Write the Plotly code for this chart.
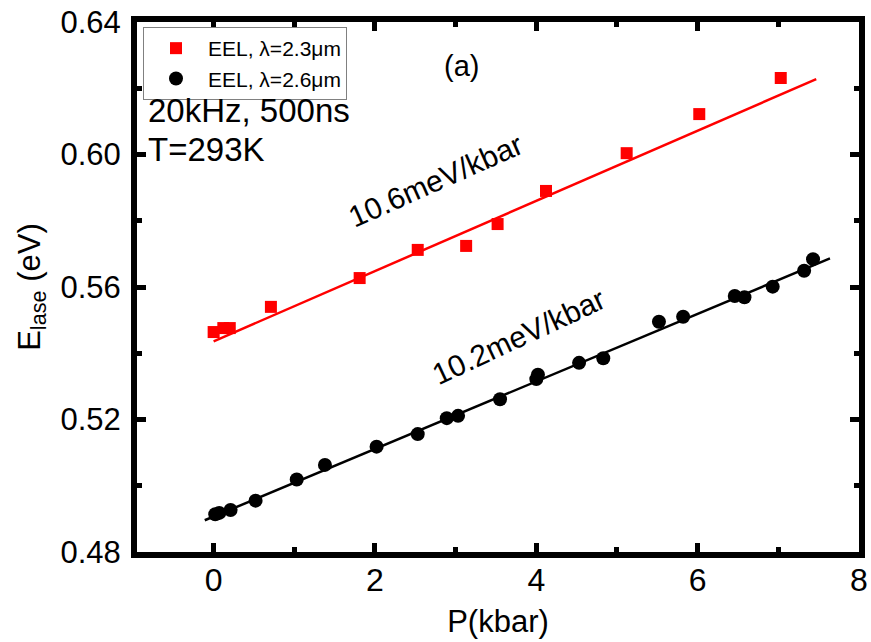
import plotly.graph_objects as go

# Lasing photon energy vs hydrostatic pressure
p_23 = [0.0, 0.12, 0.2, 0.71, 1.81, 2.53, 3.13, 3.52, 4.12, 5.12, 6.02, 7.03]
e_23 = [0.5464, 0.5476, 0.5476, 0.5540, 0.5627, 0.5712, 0.5724, 0.5790, 0.5890, 0.6004, 0.6122, 0.6231]

p_26 = [0.02, 0.07, 0.21, 0.52, 1.03, 1.38, 2.02, 2.53, 2.89, 3.03, 3.55, 4.0, 4.02,
        4.53, 4.83, 5.52, 5.82, 6.46, 6.58, 6.93, 7.32, 7.43]
e_26 = [0.4914, 0.4918, 0.4927, 0.4955, 0.5019, 0.5063, 0.5118, 0.5156, 0.5204, 0.5211,
        0.5261, 0.5322, 0.5335, 0.5371, 0.5385, 0.5495, 0.5510, 0.5573, 0.5569, 0.5601,
        0.5649, 0.5684]

# Linear fits: slope (eV/kbar), intercept (eV), fitted pressure span
slope_23, icpt_23, span_23 = 0.0106, 0.5436, [0.0, 7.47]
slope_26, icpt_26, span_26 = 0.0102, 0.4907, [-0.11, 7.64]

FONT = "Arial, Liberation Sans, sans-serif"

L, R, T, B = 137, 12, 22, 90
W, H = 871, 642
pw, ph = W - L - R, H - T - B


def px_to_paper(px, py):
    return (px - L) / pw, (H - B - py) / ph


fig = go.Figure()

fig.add_trace(go.Scatter(
    x=span_23, y=[icpt_23 + slope_23 * p for p in span_23],
    mode="lines", line=dict(color="#ff0000", width=2.5), showlegend=False))
fig.add_trace(go.Scatter(
    x=span_26, y=[icpt_26 + slope_26 * p for p in span_26],
    mode="lines", line=dict(color="#000000", width=2.5), showlegend=False))

fig.add_trace(go.Scatter(
    x=p_23, y=e_23, mode="markers", name="EEL, λ=2.3μm",
    marker=dict(symbol="square", size=12, color="#ff0000", line=dict(width=0))))
fig.add_trace(go.Scatter(
    x=p_26, y=e_26, mode="markers", name="EEL, λ=2.6μm",
    marker=dict(symbol="circle", size=14, color="#000000", line=dict(width=0))))

axis_common = dict(
    showline=True, linecolor="black", linewidth=6, mirror="ticks",
    ticks="inside", ticklen=9, tickwidth=4.5, tickcolor="black",
    showgrid=False, zeroline=False, automargin=False,
)

fig.update_xaxes(
    range=[-0.95, 8], tickvals=[0, 2, 4, 6, 8],
    tickfont=dict(family=FONT, size=32, color="black"),
    ticklabelstandoff=-5,
    minor=dict(tickvals=[1, 3, 5, 7], ticks="inside", ticklen=5, tickwidth=4.5, tickcolor="black"),
    title=dict(text="P(kbar)", font=dict(family=FONT, size=31, color="black"), standoff=15),
    **axis_common)

fig.update_yaxes(
    range=[0.48, 0.64], tickvals=[0.48, 0.52, 0.56, 0.60, 0.64], tickformat=".2f",
    tickfont=dict(family=FONT, size=31, color="black"),
    ticklabelstandoff=4,
    minor=dict(tickvals=[0.50, 0.54, 0.58, 0.62], ticks="inside", ticklen=5, tickwidth=4.5, tickcolor="black"),
    title=dict(text="E<sub>lase</sub> (eV)", font=dict(family=FONT, size=31, color="black"), standoff=13),
    **axis_common)

ax, ay = px_to_paper(461, 66)
fig.add_annotation(x=ax, y=ay, xref="paper", yref="paper", text="(a)", showarrow=False,
                   xanchor="center", yanchor="middle",
                   font=dict(family=FONT, size=29, color="black"))
cx, cy = px_to_paper(146, 111)
fig.add_annotation(x=cx, y=cy, xref="paper", yref="paper", text="20kHz, 500ns",
                   xanchor="left", yanchor="middle", showarrow=False,
                   font=dict(family=FONT, size=33, color="black"))
cx, cy = px_to_paper(146, 150)
fig.add_annotation(x=cx, y=cy, xref="paper", yref="paper", text="T=293K",
                   xanchor="left", yanchor="middle", showarrow=False,
                   font=dict(family=FONT, size=33, color="black"))

fig.add_annotation(x=2.75, y=0.5922, text="10.6meV/kbar", textangle=-24, showarrow=False,
                   font=dict(family=FONT, size=30, color="black"))
fig.add_annotation(x=3.78, y=0.5452, text="10.2meV/kbar", textangle=-25, showarrow=False,
                   font=dict(family=FONT, size=30, color="black"))

lx, ly = px_to_paper(143, 27)
fig.update_layout(
    width=W, height=H,
    margin=dict(l=L, r=R, t=T, b=B, autoexpand=False),
    paper_bgcolor="white", plot_bgcolor="white",
    font=dict(family=FONT, color="black"),
    legend=dict(
        x=lx, y=ly, xanchor="left", yanchor="top",
        bgcolor="white", bordercolor="#808080", borderwidth=1,
        font=dict(family=FONT, size=21, color="black"),
        itemwidth=54, tracegroupgap=0,
    ),
)

fig.write_html("out.html")
